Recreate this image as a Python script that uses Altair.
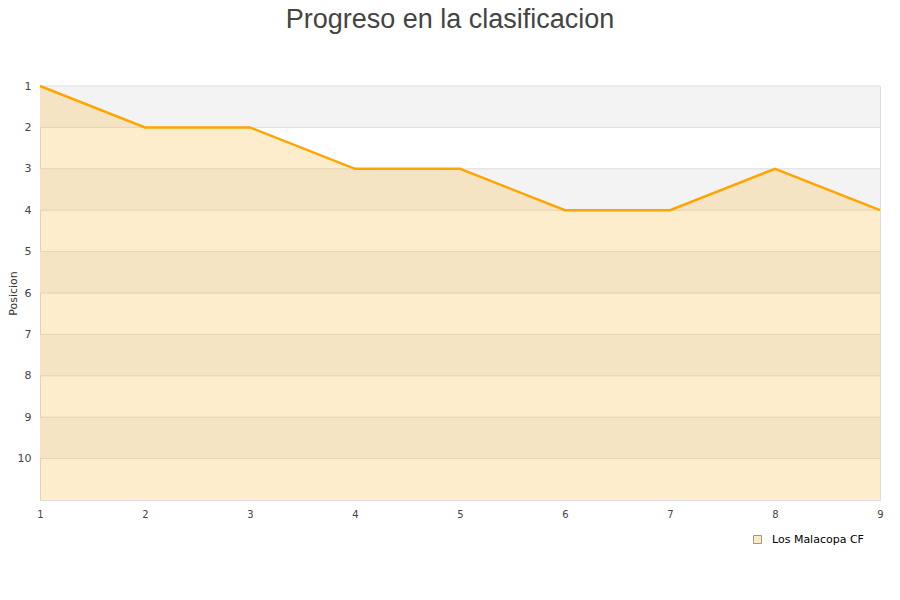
import altair as alt
import pandas as pd

jornadas = [1, 2, 3, 4, 5, 6, 7, 8, 9]
posiciones = [1, 2, 2, 3, 3, 4, 4, 3, 4]
equipo = "Los Malacopa CF"
y_ticks = [1, 2, 3, 4, 5, 6, 7, 8, 9, 10]
band_starts = [1, 3, 5, 7, 9]
titulo = "Progreso en la clasificacion"

df = pd.DataFrame({"jornada": jornadas, "posicion": posiciones})
legend_df = pd.DataFrame({"equipo": [equipo]})
bands = pd.DataFrame({"y0": band_starts, "y1": [b + 1 for b in band_starts]})
grid = pd.DataFrame({"y": y_ticks})

W, H = 840, 414
FONT = "DejaVu Sans"

xscale = alt.Scale(domain=[1, 9], nice=False, zero=False)
yscale = alt.Scale(domain=[1, 11], reverse=True, nice=False, zero=False)

band_layer = alt.Chart(bands).mark_rect(color="#f3f3f3").encode(
    x=alt.datum(1, scale=xscale),
    x2=alt.datum(9),
    y=alt.Y("y0:Q", scale=yscale),
    y2="y1:Q",
)

grid_layer = alt.Chart(grid).mark_rule(color="#dddddd", strokeWidth=1).encode(
    y=alt.Y("y:Q", scale=yscale),
)

area_layer = alt.Chart(df).mark_area(color="#fbb733", fillOpacity=0.25, interpolate="linear").encode(
    x=alt.X("jornada:Q", scale=xscale,
            axis=alt.Axis(values=jornadas, ticks=False, domain=False, grid=False, format="d",
                          labelFont=FONT, labelFontSize=10, labelColor="#444444", labelPadding=9,
                          labelFlush=False, title=None)),
    y=alt.Y("posicion:Q", scale=yscale,
            axis=alt.Axis(values=y_ticks, ticks=False, domain=False, grid=False, format="d",
                          labelFont=FONT, labelFontSize=11, labelColor="#444444", labelPadding=9,
                          title="Posicion", titleFont=FONT, titleFontSize=11, titleFontWeight="normal",
                          titleColor="#333333", titleX=-27, titleY=207, titleAngle=270,
                          titleAlign="center", titleBaseline="middle")),
    y2=alt.datum(11),
)

line_layer = alt.Chart(df).mark_line(color="#ffa500", strokeWidth=2.5).encode(
    x=alt.X("jornada:Q", scale=xscale),
    y=alt.Y("posicion:Q", scale=yscale),
)

legend_layer = alt.Chart(legend_df).mark_point(shape="square", filled=True, opacity=0).encode(
    x=alt.datum(1, scale=xscale),
    y=alt.datum(1, scale=yscale),
    fill=alt.Fill("equipo:N", scale=alt.Scale(range=["#fee8c0"]),
                  legend=alt.Legend(title=None, orient="none", legendX=712, legendY=448,
                                    symbolType="square", symbolSize=64, symbolOpacity=1,
                                    symbolStrokeColor="#999999", symbolStrokeWidth=1,
                                    labelFont=FONT, labelFontSize=11, labelColor="#000000",
                                    padding=0, labelOffset=9)),
)

title_layer = alt.Chart(pd.DataFrame({"t": [titulo]})).mark_text(
    font="Liberation Sans", fontSize=27, color="#444444", align="center", baseline="alphabetic"
).encode(
    text="t:N",
    x=alt.value(410),
    y=alt.value(-58),
)

chart = alt.layer(band_layer, grid_layer, area_layer, line_layer, legend_layer, title_layer).properties(
    width=W, height=H,
    autosize=alt.AutoSizeParams(type="none"),
    padding={"left": 32, "top": 78, "right": 12, "bottom": 84},
).configure_view(stroke="#dddddd", strokeWidth=1)

chart.save("out.html", embed_options={"renderer": "svg", "actions": False})
